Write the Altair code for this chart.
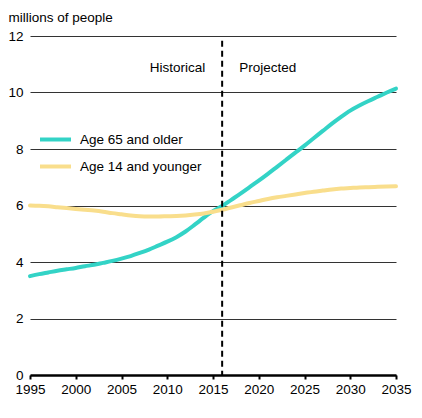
import altair as alt
import pandas as pd

years = list(range(1995, 2036))
age65 = [3.50, 3.57, 3.63, 3.69, 3.74, 3.79, 3.85, 3.90, 3.97, 4.04,
         4.12, 4.21, 4.32, 4.44, 4.58, 4.72, 4.88, 5.08, 5.32, 5.57,
         5.80, 5.98, 6.20, 6.42, 6.65, 6.88, 7.12, 7.37, 7.62, 7.87,
         8.12, 8.38, 8.64, 8.90, 9.14, 9.36, 9.54, 9.70, 9.85, 10.00, 10.14]
age14 = [6.00, 5.99, 5.97, 5.94, 5.91, 5.88, 5.85, 5.82, 5.78, 5.73,
         5.69, 5.65, 5.62, 5.61, 5.61, 5.62, 5.63, 5.65, 5.68, 5.72,
         5.78, 5.85, 5.93, 6.01, 6.09, 6.16, 6.23, 6.29, 6.34, 6.39,
         6.44, 6.49, 6.53, 6.57, 6.60, 6.62, 6.64, 6.65, 6.66, 6.67, 6.68]
series_names = ["Age 65 and older", "Age 14 and younger"]
series_colors = ["#33D3C6", "#F9DE8C"]
x_ticks = [1995, 2000, 2005, 2010, 2015, 2020, 2025, 2030, 2035]
y_ticks = [0, 2, 4, 6, 8, 10, 12]
split_year = [2016]
split_top = [11.83]
annot_labels = ["Historical", "Projected"]
annot_value = [10.85, 10.85]

FONT = "Liberation Sans"
FS = 13.5

rows = []
for y, a, b in zip(years, age65, age14):
    rows.append({"year": y, "value": a, "series": series_names[0]})
    rows.append({"year": y, "value": b, "series": series_names[1]})
df = pd.DataFrame(rows)

xscale = alt.Scale(domain=[1995, 2035], nice=False, zero=False)
yscale = alt.Scale(domain=[0, 12], nice=False)

lines = alt.Chart(df).mark_line(strokeWidth=4, strokeCap="round", interpolate="monotone").encode(
    x=alt.X("year:Q", scale=xscale,
            axis=alt.Axis(values=x_ticks, format="d", title=None, grid=False,
                          labelFlush=False, labelOverlap=False,
                          domainColor="black", domainWidth=2.5,
                          tickColor="black", tickWidth=2, tickSize=4,
                          labelPadding=3, labelFont=FONT, labelFontSize=FS,
                          labelColor="black")),
    y=alt.Y("value:Q", scale=yscale,
            axis=alt.Axis(values=y_ticks, domain=False, ticks=False, grid=True,
                          gridColor="#333333", gridWidth=1,
                          labelPadding=7, labelFont=FONT, labelFontSize=FS,
                          labelColor="black",
                          title="millions of people", titleAngle=0,
                          titleAlign="left", titleBaseline="middle",
                          titleX=-22, titleY=-19, titleFont=FONT,
                          titleFontSize=FS, titleFontWeight="normal",
                          titleColor="black")),
    color=alt.Color("series:N",
                    scale=alt.Scale(domain=series_names, range=series_colors),
                    sort=series_names,
                    legend=alt.Legend(title=None, orient="none", legendX=8,
                                      legendY=86, symbolType="stroke",
                                      symbolSize=961, symbolStrokeWidth=4,
                                      rowPadding=1, labelOffset=7,
                                      labelFont=FONT, labelFontSize=FS,
                                      labelColor="black")),
)

split_df = pd.DataFrame({"year": split_year, "top": split_top, "bottom": [0]})
split = alt.Chart(split_df).mark_rule(color="black", strokeWidth=2, strokeDash=[6, 4]).encode(
    x=alt.X("year:Q", scale=xscale),
    y=alt.Y("top:Q", scale=yscale),
    y2="bottom:Q",
)

annot_df = pd.DataFrame({"year": split_year * 2, "value": annot_value, "label": annot_labels})
hist = alt.Chart(annot_df[annot_df.label == annot_labels[0]]).mark_text(
    align="right", dx=-17, font=FONT, fontSize=FS, color="black", baseline="middle"
).encode(x=alt.X("year:Q", scale=xscale), y=alt.Y("value:Q", scale=yscale), text="label:N")
proj = alt.Chart(annot_df[annot_df.label == annot_labels[1]]).mark_text(
    align="left", dx=17, font=FONT, fontSize=FS, color="black", baseline="middle"
).encode(x=alt.X("year:Q", scale=xscale), y=alt.Y("value:Q", scale=yscale), text="label:N")

chart = alt.layer(lines, split, hist, proj).properties(
    width=366, height=339,
    autosize=alt.AutoSizeParams(type="none"),
    padding={"left": 22, "top": 28, "right": 18, "bottom": 35},
    background="white",
).configure_view(stroke=None)

chart.save("out.html", embed_options={"renderer": "svg", "actions": False})
